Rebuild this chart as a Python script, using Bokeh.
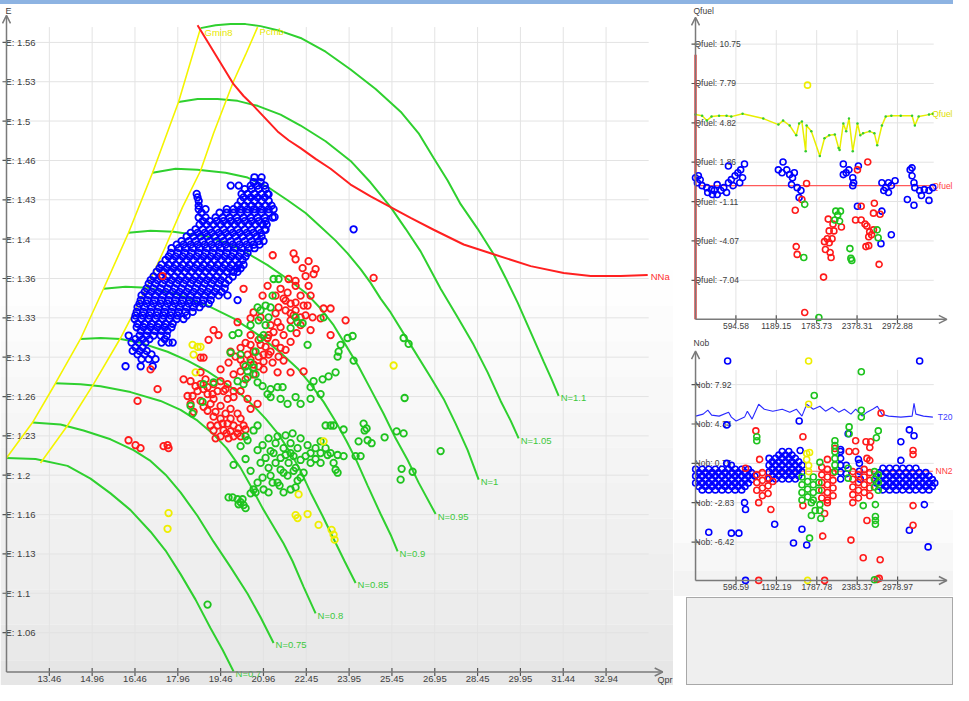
from bokeh.plotting import figure
from bokeh.models import Range1d, Arrow, OpenHead, BoxAnnotation, Div
from bokeh.layouts import row, column
from bokeh.embed import file_html
from bokeh.resources import INLINE
from bokeh.core.properties import value

FONT = "Liberation Sans"
AXIS_C = "#7a7a7a"
TICK_C = "#555555"
TEXT_C = "#404040"
GRID_C = "#e3e3e3"
BLUE, RED, GREEN, YELLOW = "#0000ff", "#ff1a1a", "#1ec31e", "#eeee00"
LINE_GREEN, LINE_YELLOW, LINE_RED = "#2fd02f", "#f4f400", "#ff2020"

# ---------------- main map: Qpr vs E ----------------
qpr_ticks = [13.4635, 14.962, 16.4605, 17.959, 19.4575, 20.956, 22.4545, 23.953,
             25.4515, 26.95, 28.4485, 29.947, 31.4455, 32.944]
qpr_labels = ["13.46", "14.96", "16.46", "17.96", "19.46", "20.96", "22.45", "23.95",
              "25.45", "26.95", "28.45", "29.95", "31.44", "32.94"]
e_ticks = [1.0633, 1.0967, 1.13, 1.1633, 1.1967, 1.23, 1.2633, 1.2967, 1.33, 1.3633,
           1.3967, 1.43, 1.4633, 1.4967, 1.53, 1.5633]
e_labels = ["1.06", "1.1", "1.13", "1.16", "1.2", "1.23", "1.26", "1.3", "1.33", "1.36",
            "1.4", "1.43", "1.46", "1.5", "1.53", "1.56"]

n070_x = [11.965, 12.98, 14.10, 14.905, 15.605, 16.305, 17.005, 17.53, 18.055, 18.58, 19.105, 19.525, 19.91]
n070_y = [1.2113, 1.2104, 1.2046, 1.1938, 1.1813, 1.1671, 1.1488, 1.1329, 1.1129, 1.0913, 1.0671, 1.0488, 1.0304]
n075_x = [12.875, 13.855, 14.66, 15.605, 16.41, 17.005, 17.53, 18.055, 18.65, 19.21, 19.805, 20.40, 20.855, 21.31]
n075_y = [1.2413, 1.2396, 1.2346, 1.2271, 1.2179, 1.2088, 1.1971, 1.1821, 1.1621, 1.1404, 1.1188, 1.0963, 1.0763, 1.0546]
n080_x = [13.68, 14.555, 15.255, 16.305, 17.355, 18.055, 18.65, 19.175, 19.665, 20.155, 20.54, 20.925,
          21.275, 21.66, 21.975, 22.36, 22.78]
n080_y = [1.2746, 1.2738, 1.2721, 1.2671, 1.2596, 1.2521, 1.2429, 1.2321, 1.2196, 1.2029, 1.1863, 1.1688,
          1.1546, 1.1388, 1.1238, 1.1021, 1.0796]
n085_x = [14.555, 15.255, 15.955, 16.655, 17.60, 18.30, 19.0, 19.63, 20.155, 20.61, 21.03, 21.485, 21.905,
          22.255, 22.605, 23.025, 23.41, 23.795, 24.18]
n085_y = [1.3121, 1.3129, 1.3121, 1.3088, 1.3013, 1.2938, 1.2846, 1.2746, 1.2654, 1.2554, 1.2446, 1.2313,
          1.2154, 1.2004, 1.1821, 1.1621, 1.1429, 1.1238, 1.1054]
n090_x = [15.36, 16.13, 16.90, 17.88, 19.0, 19.91, 20.785, 21.555, 22.15, 22.605, 23.06, 23.48, 23.865,
          24.215, 24.60, 25.055, 25.405, 25.65]
n090_y = [1.3546, 1.3563, 1.3554, 1.3504, 1.3404, 1.3296, 1.3154, 1.3004, 1.2871, 1.2738, 1.2588, 1.2421,
          1.2254, 1.2088, 1.1879, 1.1638, 1.1463, 1.1321]
n095_x = [16.235, 17.005, 17.81, 19.0, 19.805, 20.40, 21.10, 21.80, 22.43, 22.955, 23.41, 23.83, 24.285,
          24.705, 25.16, 25.58, 26.0, 26.385, 26.98]
n095_y = [1.4021, 1.4038, 1.4029, 1.3988, 1.3921, 1.3846, 1.3746, 1.3629, 1.3513, 1.3379, 1.3238, 1.3071,
          1.2888, 1.2696, 1.2488, 1.2279, 1.2096, 1.1904, 1.1638]
n100_x = [17.075, 17.88, 18.65, 19.63, 20.40, 21.135, 21.80, 22.43, 22.955, 23.48, 23.90, 24.355, 24.705,
          25.055, 25.405, 26.105, 26.805, 27.26, 27.68, 28.10, 28.485]
n100_y = [1.4529, 1.4563, 1.4554, 1.4529, 1.4488, 1.4404, 1.4296, 1.4188, 1.4071, 1.3954, 1.3846, 1.3713,
          1.3596, 1.3463, 1.3346, 1.3071, 1.2796, 1.2613, 1.2404, 1.2179, 1.1929]
n105_x = [17.985, 18.65, 19.35, 20.05, 20.75, 21.555, 22.255, 23.13, 24.005, 24.705, 25.405, 25.93, 26.455,
          27.155, 27.75, 28.31, 28.80, 29.255, 29.605, 29.885]
n105_y = [1.5129, 1.5154, 1.5154, 1.5138, 1.5096, 1.5021, 1.4929, 1.4796, 1.4629, 1.4446, 1.4238, 1.4054,
          1.3863, 1.3546, 1.3304, 1.3071, 1.2838, 1.2596, 1.2429, 1.2279]
n110_x = [18.755, 19.28, 19.805, 20.33, 20.855, 21.555, 22.255, 23.13, 24.005, 24.88, 25.755, 26.385, 26.91,
          27.40, 27.855, 28.45, 29.01, 29.43, 29.85, 30.305, 30.76, 31.04, 31.285]
n110_y = [1.5754, 1.5779, 1.5788, 1.5788, 1.5771, 1.5729, 1.5671, 1.5554, 1.5404, 1.5238, 1.5046, 1.4863,
          1.4654, 1.4463, 1.4263, 1.4054, 1.3838, 1.3638, 1.3429, 1.3179, 1.2929, 1.2779, 1.2638]
speed_names = ["N=0.7", "N=0.75", "N=0.8", "N=0.85", "N=0.9", "N=0.95", "N=1", "N=1.05", "N=1.1"]

gmin_x = [11.965, 12.875, 13.68, 14.555, 15.36, 16.235, 17.075, 17.985, 18.755]
gmin_y = [1.2113, 1.2413, 1.2746, 1.3121, 1.3546, 1.4021, 1.4529, 1.5129, 1.5754]
pcmb_x = [13.155, 14.10, 15.01, 15.955, 16.90, 17.53, 18.125, 18.755, 19.21, 19.91, 20.33, 20.75]
pcmb_y = [1.2071, 1.2388, 1.2738, 1.3129, 1.3571, 1.3904, 1.4238, 1.4546, 1.4863, 1.5304, 1.5529, 1.5763]
nna_x = [18.65, 18.965, 19.28, 19.595, 19.91, 20.26, 20.61, 21.03, 21.45, 21.835, 22.255, 22.78, 23.305,
         24.005, 24.705, 25.405, 26.105, 26.91, 27.96, 29.01, 30.305, 31.46, 32.405, 33.455, 34.40]
nna_y = [1.5779, 1.5654, 1.5529, 1.5404, 1.5279, 1.5179, 1.5096, 1.4988, 1.4879, 1.4804, 1.4738, 1.4646,
         1.4563, 1.4429, 1.4329, 1.4238, 1.4146, 1.4046, 1.3921, 1.3838, 1.3738, 1.3679, 1.3654, 1.3654, 1.3663]


def row_of(y, xs):
    return [(x, y) for x in xs]


map_blue = [
    *row_of(1.449, [20.64, 20.89]),
    *row_of(1.445, [20.61, 20.86]),
    *row_of(1.442, [19.81, 20.09, 20.51, 20.75, 21.00]),
    *row_of(1.439, [20.30, 20.54, 20.79, 21.03]),
    *row_of(1.435, [18.62, 20.19, 20.40, 20.64, 20.89, 21.10]),
    *row_of(1.432, [18.65, 20.26, 20.51, 20.75, 21.00]),
    *row_of(1.429, [18.69, 20.16, 20.40, 20.64, 20.89, 21.14]),
    *row_of(1.425, [18.69, 20.05, 20.30, 20.54, 20.79, 21.03, 21.24]),
    *row_of(1.422, [18.69, 18.93, 19.67, 19.91, 20.16, 20.40, 20.64, 20.89, 21.14, 21.31]),
    *row_of(1.419, [18.79, 19.42, 19.67, 19.91, 20.16, 20.40, 20.65, 20.89, 21.14]),
    *row_of(1.415, [18.69, 18.93, 19.28, 19.53, 19.77, 20.02, 20.26, 20.51, 20.75, 21.00, 21.28]),
    *row_of(1.412, [18.83, 19.07, 19.32, 19.56, 19.81, 20.05, 20.30, 20.54, 20.79, 21.03]),
    *row_of(1.409, [18.72, 18.97, 19.21, 19.46, 19.70, 19.95, 20.19, 20.44, 20.68, 20.93, 21.07]),
    *row_of(1.405, [18.58, 18.83, 19.07, 19.32, 19.56, 19.81, 20.05, 20.30, 20.54, 20.79, 21.00]),
    *row_of(1.402, [18.41, 18.65, 18.90, 19.14, 19.39, 19.63, 19.88, 20.12, 20.37, 20.61, 20.86]),
    *row_of(1.399, [18.27, 18.51, 18.76, 19.00, 19.25, 19.49, 19.74, 19.98, 20.23, 20.47, 20.72, 20.89]),
    *row_of(1.395, [18.09, 18.34, 18.58, 18.83, 19.07, 19.32, 19.56, 19.81, 20.05, 20.30, 20.54, 20.79, 20.96]),
    *row_of(1.392, [17.92, 18.16, 18.41, 18.65, 18.90, 19.14, 19.39, 19.63, 19.88, 20.12, 20.37, 20.61, 20.82]),
    *row_of(1.389, [17.74, 17.99, 18.23, 18.48, 18.72, 18.97, 19.21, 19.46, 19.70, 19.95, 20.19, 20.44, 20.64]),
    *row_of(1.385, [17.71, 17.95, 18.20, 18.44, 18.69, 18.93, 19.18, 19.42, 19.67, 19.91, 20.16, 20.40]),
    *row_of(1.382, [17.64, 17.88, 18.13, 18.37, 18.62, 18.86, 19.11, 19.35, 19.60, 19.84, 20.09, 20.33]),
    *row_of(1.379, [17.53, 17.78, 18.02, 18.27, 18.51, 18.76, 19.00, 19.25, 19.49, 19.74, 19.98, 20.23]),
    *row_of(1.375, [17.39, 17.64, 17.88, 18.13, 18.37, 18.62, 18.86, 19.11, 19.35, 19.60, 19.84, 20.09, 20.26]),
    *row_of(1.372, [17.32, 17.57, 17.81, 18.06, 18.30, 18.55, 18.79, 19.04, 19.28, 19.53, 19.77, 20.02, 20.16]),
    *row_of(1.369, [17.22, 17.46, 17.71, 17.95, 18.20, 18.44, 18.69, 18.93, 19.18, 19.42, 19.67, 19.91, 20.05]),
    *row_of(1.365, [17.11, 17.36, 17.60, 17.85, 18.09, 18.34, 18.58, 18.83, 19.07, 19.32, 19.56, 19.88]),
    *row_of(1.362, [17.01, 17.25, 17.50, 17.74, 17.99, 18.23, 18.48, 18.72, 18.97, 19.21, 19.46, 19.74]),
    *row_of(1.359, [16.94, 17.18, 17.43, 17.67, 17.92, 18.16, 18.41, 18.65, 18.90, 19.14, 19.39, 19.63]),
    *row_of(1.355, [16.87, 17.11, 17.36, 17.60, 17.85, 18.09, 18.34, 18.58, 18.83, 19.07, 19.32, 19.60]),
    *row_of(1.352, [16.80, 17.04, 17.29, 17.53, 17.78, 18.02, 18.27, 18.51, 18.76, 19.00, 19.25, 19.49]),
    *row_of(1.349, [16.69, 16.94, 17.18, 17.43, 17.67, 17.92, 18.16, 18.41, 18.65, 18.90, 19.14, 19.39, 19.70]),
    *row_of(1.345, [16.66, 16.90, 17.15, 17.39, 17.64, 17.88, 18.13, 18.37, 18.62, 18.86, 19.11]),
    *row_of(1.342, [16.62, 16.87, 17.11, 17.36, 17.60, 17.85, 18.09, 18.34, 18.58, 18.83, 19.04]),
    *row_of(1.339, [16.55, 16.80, 17.04, 17.29, 17.53, 17.78, 18.02, 18.27, 18.51, 18.72]),
    *row_of(1.335, [16.52, 16.76, 17.01, 17.25, 17.50, 17.74, 17.99, 18.23, 18.48]),
    *row_of(1.332, [16.48, 16.73, 16.97, 17.22, 17.46, 17.71, 17.95, 18.27]),
    *row_of(1.329, [16.45, 16.69, 16.94, 17.18, 17.43, 17.67, 17.92, 18.16]),
    *row_of(1.325, [16.55, 16.80, 17.04, 17.29, 17.53, 17.78]),
    *row_of(1.322, [16.52, 16.76, 17.01, 17.25, 17.50, 17.74]),
    *row_of(1.319, [16.66, 16.90, 17.15, 17.39, 17.60]),
    *row_of(1.315, [16.24, 16.62, 16.87, 17.11, 17.36, 17.57]),
    *row_of(1.312, [16.48, 16.73, 16.97, 17.50]),
    *row_of(1.309, [16.34, 16.59, 16.83, 17.39, 17.64, 17.78]),
    *row_of(1.305, [16.48, 16.73]),
    *row_of(1.302, [16.38, 16.62, 16.87]),
    *row_of(1.299, [16.55, 16.80, 17.04]),
    *row_of(1.295, [16.69, 16.94, 17.18]),
    *row_of(1.289, [16.13, 16.66, 17.08]),
    (24.11, 1.405), (20.05, 1.345), (21.135, 1.4346), (21.345, 1.4154), (21.03, 1.4046),
]

map_red = [
    (21.28, 1.383), (22.01, 1.3846), (22.08, 1.3796), (22.535, 1.378), (22.78, 1.3713), (22.71, 1.3671),
    (22.325, 1.3721), (21.835, 1.3629), (20.26, 1.3546), (21.10, 1.3571), (21.555, 1.3546), (21.80, 1.3513),
    (21.66, 1.3463), (21.905, 1.3421), (22.535, 1.3571), (22.36, 1.3404), (22.50, 1.3404), (20.61, 1.3346),
    (20.505, 1.3296), (20.855, 1.3304), (20.05, 1.3263), (19.21, 1.3196), (19.385, 1.3154), (19.035, 1.3113),
    (21.45, 1.3263), (22.01, 1.3321), (22.255, 1.3238), (22.605, 1.3196), (22.955, 1.3296), (23.06, 1.3379),
    (21.31, 1.3179), (21.66, 1.3154), (21.905, 1.3096), (21.10, 1.3129), (20.855, 1.3071), (20.155, 1.3046),
    (20.40, 1.2988), (20.61, 1.3013), (20.96, 1.2988), (21.205, 1.3013), (21.555, 1.3046), (20.61, 1.2904),
    (20.26, 1.2904), (20.96, 1.2929), (20.155, 1.2846), (20.61, 1.2821), (21.45, 1.2838), (21.905, 1.2838),
    (22.36, 1.2846), (18.755, 1.2963), (18.86, 1.2963), (19.455, 1.2863), (18.755, 1.2838), (18.16, 1.2779),
    (18.405, 1.2763), (18.755, 1.2738), (19.0, 1.2713), (19.21, 1.2738), (19.455, 1.2763), (19.70, 1.2738),
    (19.91, 1.2679), (19.35, 1.2679), (19.0, 1.2654), (18.65, 1.2679), (18.30, 1.2638), (18.755, 1.2596),
    (19.21, 1.2613), (19.70, 1.2613), (19.91, 1.2629), (20.40, 1.2613), (20.75, 1.2571), (20.505, 1.2529),
    (18.86, 1.2546), (19.0, 1.2513), (18.51, 1.2504), (19.21, 1.2463), (19.455, 1.2446), (19.70, 1.2404),
    (19.91, 1.2388), (19.35, 1.2388), (19.56, 1.2346), (19.805, 1.2338), (20.05, 1.2321), (19.455, 1.2296),
    (19.91, 1.2296), (20.085, 1.2363),
    (17.25, 1.2696), (16.55, 1.2596), (17.005, 1.2863), (17.425, 1.3654), (16.235, 1.2263), (16.48, 1.2221),
    (16.655, 1.2196), (17.46, 1.2213), (17.635, 1.2196), (17.6, 1.2221), (24.81, 1.3638), (23.83, 1.3279),
    (23.305, 1.3379), (23.305, 1.3154),
    (21.73, 1.3363), (22.08, 1.3363), (21.38, 1.3338), (21.905, 1.3279), (21.555, 1.3221), (22.115, 1.3171),
    (21.205, 1.3238), (22.255, 1.3488), (22.08, 1.3571), (22.43, 1.3321), (20.505, 1.3154), (20.785, 1.3113),
    (20.33, 1.3088), (21.03, 1.3054), (20.505, 1.2946), (20.785, 1.2888), (19.98, 1.2971), (21.275, 1.2921),
    (19.805, 1.3013), (21.66, 1.2938), (18.58, 1.2721), (18.93, 1.2779), (19.56, 1.2679), (20.155, 1.2679),
    (19.105, 1.2571), (19.455, 1.2554), (19.805, 1.2529), (18.405, 1.2571), (19.21, 1.2346), (19.63, 1.2488),
    (20.155, 1.2446), (20.26, 1.2388), (19.735, 1.2279),
    (20.925, 1.3488), (21.38, 1.3488), (21.73, 1.3446), (22.08, 1.3429), (21.485, 1.3388), (21.905, 1.3338),
    (22.255, 1.3304), (21.135, 1.3154), (21.38, 1.3088), (21.73, 1.3029), (20.785, 1.2971), (21.135, 1.2988),
    (21.485, 1.2971), (20.96, 1.2863), (20.33, 1.2779), (19.91, 1.2821), (19.63, 1.2696), (19.175, 1.2654),
    (18.86, 1.2696), (18.475, 1.2638), (19.28, 1.2504), (19.525, 1.2404), (19.805, 1.2446), (20.05, 1.2488),
    (19.665, 1.2321), (20.155, 1.2296), (20.33, 1.2354), (19.28, 1.2279), (19.105, 1.2388), (22.08, 1.3613),
    (22.43, 1.3654), (22.605, 1.3488), (22.675, 1.3304), (20.505, 1.3071), (20.155, 1.2946), (19.735, 1.2921),
]

map_green = [
    (21.31, 1.3629), (21.485, 1.3629), (20.75, 1.3388), (20.855, 1.3363), (19.875, 1.3154), (20.085, 1.3171),
    (19.805, 1.3004), (20.40, 1.2846), (20.75, 1.2754), (20.05, 1.2763), (19.21, 1.2754), (18.86, 1.2738),
    (18.405, 1.2554), (18.475, 1.2488), (18.825, 1.2588), (20.61, 1.2879), (20.40, 1.2796), (20.855, 1.3129),
    (20.96, 1.3154), (21.03, 1.3238), (21.135, 1.3304), (20.68, 1.3013), (20.505, 1.2921), (20.26, 1.2738),
    (21.205, 1.3388), (21.275, 1.3488),
    (22.08, 1.3304), (22.15, 1.3263), (22.325, 1.3254), (22.50, 1.3071), (21.905, 1.3213), (22.71, 1.2763),
    (23.025, 1.2779), (23.235, 1.2804), (22.605, 1.2713), (22.08, 1.2629), (21.625, 1.2713), (21.45, 1.2713),
    (21.205, 1.2629), (21.10, 1.2654), (23.06, 1.3304), (23.13, 1.2388), (22.955, 1.2254),
    (23.90, 1.3129), (24.075, 1.3146), (23.655, 1.3071), (23.585, 1.3013), (23.55, 1.2971), (24.11, 1.2938),
    (23.48, 1.2838), (25.86, 1.3129), (26.035, 1.3079), (25.895, 1.2621), (23.305, 1.2388), (23.41, 1.2388),
    (23.76, 1.2354), (24.46, 1.2404), (24.565, 1.2363), (24.495, 1.2346), (24.285, 1.2254), (24.60, 1.2263),
    (24.74, 1.2238), (25.195, 1.2288), (25.615, 1.2338), (25.86, 1.2321), (27.155, 1.2171), (23.305, 1.2154),
    (23.55, 1.2138), (23.76, 1.2129), (24.18, 1.2129), (24.355, 1.2129), (23.41, 1.2071), (23.48, 1.2013),
    (23.55, 1.1988), (25.79, 1.2021), (26.175, 1.1996), (25.755, 1.1929),
    (20.40, 1.2263), (20.61, 1.2346), (20.75, 1.2388), (20.33, 1.2296), (20.75, 1.2179), (21.205, 1.2171),
    (19.91, 1.2054), (20.155, 1.2213), (21.45, 1.2296), (21.73, 1.2304), (22.01, 1.2129), (22.255, 1.2096),
    (22.43, 1.2129), (21.555, 1.2013), (21.205, 1.1963), (21.45, 1.1904), (21.80, 1.1963), (21.905, 1.1846),
    (20.96, 1.1846), (20.61, 1.1846), (21.38, 1.2238), (21.66, 1.2196), (21.905, 1.2238), (21.555, 1.2113),
    (21.835, 1.2071), (22.08, 1.2029), (21.38, 1.2071), (21.135, 1.2029), (21.03, 1.2113), (21.66, 1.1821),
    (22.15, 1.1921), (22.36, 1.1988), (22.605, 1.2071), (21.275, 1.1904), (20.925, 1.1946), (21.905, 1.2154),
    (22.78, 1.2196), (22.955, 1.2154), (23.13, 1.2196), (23.20, 1.2138),
    (19.735, 1.1779), (19.875, 1.1779), (20.05, 1.1763), (20.155, 1.1738), (20.26, 1.1713), (20.33, 1.1688),
    (20.085, 1.1721), (20.225, 1.1763), (20.505, 1.1813), (20.68, 1.1821), (19.0, 1.0871),
    (21.135, 1.2279), (20.925, 1.2221), (21.31, 1.2154), (21.73, 1.2138), (22.15, 1.2196), (22.255, 1.2279),
    (21.975, 1.2321), (22.50, 1.2221), (22.605, 1.2154), (20.855, 1.2071), (21.66, 1.1988), (22.01, 1.2004),
    (22.255, 1.1946), (21.52, 1.1879), (21.135, 1.1821), (22.08, 1.1863), (20.75, 1.1904), (20.505, 1.2004),
    (20.33, 1.2104), (22.78, 1.2104), (22.955, 1.2071),
    (20.33, 1.2888), (20.68, 1.2821), (20.925, 1.2721), (20.155, 1.2988), (20.505, 1.3238), (20.785, 1.3279),
    (21.03, 1.3404), (21.205, 1.2696), (21.555, 1.2613), (21.80, 1.2571), (22.255, 1.2571), (22.605, 1.2613),
    (22.955, 1.2654),
]

map_yellow = [
    (18.475, 1.3071), (18.65, 1.3054), (18.755, 1.3054), (18.51, 1.2988), (18.58, 1.2838), (25.51, 1.2896),
    (23.06, 1.2254), (17.635, 1.1646), (17.60, 1.1513), (22.185, 1.1804), (22.08, 1.1629), (22.15, 1.1604),
    (22.50, 1.1638), (22.885, 1.1546), (23.34, 1.1504), (23.41, 1.1463), (23.445, 1.1421),
]

# ---------------- Qfuel panel ----------------
qf_xticks = [594.58, 1189.15, 1783.73, 2378.31, 2972.88]
qf_xlabels = ["594.58", "1189.15", "1783.73", "2378.31", "2972.88"]
qf_yticks = [-7.04, -4.075, -1.11, 1.855, 4.82, 7.785, 10.75]
qf_ylabels = ["-7.04", "-4.07", "-1.11", "1.86", "4.82", "7.79", "10.75"]
qf_line_x = [0, 97, 166, 236, 347, 457, 527, 693, 998, 1220, 1289, 1386, 1483, 1525, 1566, 1622, 1635,
             1705, 1830, 1899, 1968, 2051, 2107, 2121, 2176, 2218, 2259, 2315, 2384, 2426, 2467, 2564,
             2633, 2675, 2744, 2800, 2883, 3021, 3188, 3229, 3285, 3437, 3493]
qf_line_y = [5.44, 5.36, 4.99, 5.29, 5.36, 5.36, 5.29, 5.51, 5.14, 4.69, 4.99, 4.62, 3.88, 4.77, 4.92,
             2.69, 4.62, 4.18, 2.32, 3.66, 3.88, 3.95, 2.92, 2.77, 4.77, 4.18, 5.14, 2.69, 4.77, 3.88,
             4.03, 4.18, 4.03, 3.14, 4.62, 5.29, 5.36, 5.36, 5.36, 4.62, 5.29, 5.44, 5.51]
qf_ref_x = [0, 3493]
qf_ref_y = [0.09, 0.09]
qf_limit_x = [0, 0]
qf_limit_y = [-9.98, 9.95]
qf_blue = [(485, 1.57), (721, 1.72), (1289, 1.87), (2176, 1.72), (2398, 1.57), (3188, 1.43), (0, 0.69),
           (42, 0.83), (28, 0.31), (97, 0.09), (166, -0.06), (236, -0.21), (277, -0.28), (319, 0.17),
           (374, -0.28), (416, -0.06), (457, -0.43), (485, 0.31), (527, 0.54), (582, 0.83), (624, 1.06),
           (665, 1.28), (693, 0.69), (651, 0.31), (554, 0.09), (319, -0.58), (249, -0.58), (180, -0.43),
           (69, 0.54), (1220, 1.28), (1275, 1.06), (1344, 1.28), (1386, 0.92), (1428, 0.69), (1455, 1.06),
           (1414, 0.17), (1497, -0.06), (1552, -0.28), (1525, -0.80), (2176, 0.92), (2218, 1.06),
           (2259, 1.28), (2315, 0.69), (2328, 0.31), (2315, 0.09), (2744, 0.31), (2800, -0.06),
           (2841, 0.31), (2883, 0.09), (2938, 0.46), (2772, -0.28), (2841, -0.43), (3160, 1.28),
           (3188, 0.83), (3216, 0.31), (3229, -0.06), (3299, -0.28), (3368, -0.21), (3437, -0.28),
           (3493, -0.06), (3119, -0.95), (3216, -1.39), (3437, -1.02), (3326, -0.65), (2384, -1.46),
           (2744, -1.83), (2883, -3.61), (2730, -4.28)]
qf_red = [(2536, 1.87), (1635, 0.25), (1566, -0.95), (1469, -1.76), (1954, -2.43), (2024, -2.80),
          (2148, -3.02), (1968, -3.32), (2037, -3.32), (1940, -3.91), (2010, -3.91), (1899, -4.13),
          (1968, -4.21), (1913, -4.72), (1982, -4.95), (1996, -5.32), (1483, -4.50), (1497, -5.09),
          (1885, -6.80), (1608, -9.47), (2356, -2.50), (2439, -2.50), (2495, -2.80), (2523, -2.95),
          (2439, -1.46), (2633, -1.24), (2620, -1.98), (2717, -2.06), (2564, -3.39), (2592, -3.61),
          (2550, -3.76), (2620, -3.24), (2509, -4.50), (2550, -4.43), (2703, -5.84), (2384, 1.28)]
qf_green = [(1608, -1.32), (2065, -1.83), (2134, -1.83), (2093, -2.13), (2051, -2.50), (2121, -2.58),
            (2273, -4.65), (2287, -5.39), (2301, -5.54), (1594, -5.32), (2675, -3.24), (2689, -3.84),
            (1816, -9.84)]
qf_yellow = [(1649, 7.66)]

# ---------------- Nob panel ----------------
nob_xticks = [596.59, 1192.19, 1787.78, 2383.37, 2978.97]
nob_xlabels = ["596.59", "1192.19", "1787.78", "2383.37", "2978.97"]
nob_yticks = [-6.42, -2.835, 0.75, 4.335, 7.92]
nob_ylabels = ["-6.42", "-2.83", "0.75", "4.34", "7.92"]
t20_x = [1, 112, 181, 237, 348, 487, 528, 598, 723, 764, 834, 931, 1014, 1139, 1278, 1389, 1486, 1569,
         1639, 1736, 1833, 1916, 2014, 2111, 2194, 2291, 2361, 2458, 2527, 2611, 2680, 2749, 2846,
         3027, 3193, 3221, 3249, 3360, 3499]
t20_y = [5.05, 5.23, 5.59, 5.14, 5.05, 5.41, 4.96, 4.61, 4.96, 5.50, 4.78, 6.13, 5.68, 5.50, 5.68,
         5.41, 5.68, 5.05, 6.13, 5.68, 5.95, 5.50, 5.86, 5.41, 5.68, 5.23, 5.68, 5.05, 5.41, 5.68,
         5.95, 5.23, 5.05, 4.96, 5.05, 6.22, 5.23, 5.05, 4.96]
nn2_x = [1, 3499]
nn2_y = [0.03, 0.03]
nob_blue = [
    *row_of(0.214, [1, 98, 195, 292, 390, 487, 584, 681, 778]),
    *row_of(-0.1, [50, 147, 244, 341, 438, 535, 632, 729, 826]),
    *row_of(-0.413, [1, 98, 195, 292, 390, 487, 584, 681, 778, 875]),
    *row_of(-0.73, [50, 147, 244, 341, 438, 535, 632, 729, 826]),
    *row_of(-1.04, [1, 98, 195, 292, 390, 487, 584, 681, 778]),
    *row_of(-1.35, [50, 147, 244, 341, 438, 535, 632, 729]),
    *row_of(-1.667, [98, 195, 292, 390, 487, 584, 681]),
    (459, 0.75), (528, 0.57),
    *row_of(1.827, [1278, 1375]),
    *row_of(1.5, [1229, 1326, 1423]),
    *row_of(1.2, [1084, 1181, 1278, 1375, 1472]),
    *row_of(0.89, [1132, 1229, 1326, 1423, 1520]),
    *row_of(0.573, [1084, 1181, 1278, 1375, 1472, 1569]),
    *row_of(0.26, [1132, 1229, 1326, 1423, 1520]),
    *row_of(-0.054, [1084, 1181, 1278, 1375, 1472, 1569]),
    *row_of(-0.37, [1132, 1229, 1326, 1423, 1520]),
    *row_of(-0.682, [1084, 1181, 1278, 1375, 1472]),
    *row_of(0.3, [2763, 2860, 2958, 3055, 3152, 3249]),
    *row_of(-0.1, [2714, 2811, 2909, 3006, 3103, 3200, 3297, 3394]),
    *row_of(-0.413, [2666, 2763, 2860, 2958, 3055, 3152, 3249, 3346, 3443]),
    *row_of(-0.73, [2714, 2811, 2909, 3006, 3103, 3200, 3297, 3394, 3491]),
    *row_of(-1.04, [2666, 2763, 2860, 2958, 3055, 3152, 3249, 3346, 3443, 3527]),
    *row_of(-1.35, [2714, 2811, 2909, 3006, 3103, 3200, 3297, 3394, 3491]),
    *row_of(-1.667, [2763, 2860, 2958, 3055, 3152, 3249, 3346, 3443]),
    (2139, 1.827), (2139, 1.2), (2139, 0.573), (2139, -0.054), (2139, -0.682), (2222, 0.573),
    (2222, -0.2), (2416, 0.752), (2416, 0.035), (2430, -0.7),
    (473, 10.07), (3304, 10.07), (1528, 4.61), (459, 4.25), (2250, 3.44), (2139, 2.01), (3152, 3.80),
    (3221, 3.26), (3027, 2.72), (1542, 1.92), (3027, 1.02), (2402, 1.11),
    (723, -2.83), (737, -3.46), (3374, -3.01), (1167, -4.80), (195, -5.52), (528, -5.61), (639, -5.61),
    (1569, -5.25), (1444, -6.51), (1639, -6.69), (3152, -5.34), (3429, -6.86), (737, -9.91),
]
nob_red = [
    (903, -0.3), (903, -1.0), (903, -1.7), (986, -0.1), (986, -0.8), (986, -1.5), (986, -2.2),
    (1070, -0.6), (1070, -1.3), (1070, -2.0), (1139, -0.9),
    (1861, 0.4), (1861, -0.3), (1861, -1.0), (1861, -1.7), (1861, -2.4), (1944, 0.2), (1944, -0.5),
    (1944, -1.2), (1944, -1.9), (1944, -2.6), (2027, -0.1), (2027, -0.8), (2027, -1.5), (2027, -2.2),
    (2319, 0.0), (2319, -0.7), (2319, -1.4), (2319, -2.1), (2402, -0.3), (2402, -1.0), (2402, -1.7),
    (2402, -2.4), (2486, 0.2), (2486, -0.5), (2486, -1.2), (2486, -1.9), (2569, -0.1), (2569, -0.8),
    (2569, -1.5), (2569, -2.2),
    (2735, 5.32), (889, 3.71), (2361, 2.81), (2513, 2.72), (2583, 2.72), (2569, 2.19), (1583, 3.17),
    (2055, 2.10), (2264, 1.83), (2361, 1.83), (3207, 1.92), (3207, 1.56), (1944, 1.11), (945, 1.11),
    (737, 0.30), (2527, 1.20), (2569, 1.02),
    (931, -2.83), (1111, -3.46), (1583, -3.10), (1903, -3.82), (1944, -2.83), (2319, -2.83),
    (2527, -4.45), (3207, -3.10), (1875, -5.88), (2291, -6.24), (3207, -4.89), (2472, -7.85),
    (2722, -8.03), (931, -9.91), (1903, -9.91), (2680, -9.82), (2708, -9.73),
]
nob_green = [
    (1569, -0.5), (1569, -1.2), (1569, -1.9), (1569, -2.6), (1653, -0.9), (1653, -1.6), (1653, -2.3),
    (1736, -0.5), (1736, -1.2), (1736, -1.9), (1736, -2.6), (1819, -1.0), (1819, -1.7),
    (2055, 1.8), (2055, 1.2), (2055, 0.6), (2055, 0.0),
    (2638, 0.0), (2638, -0.7), (2638, -1.4), (2694, -0.3), (2694, -1.0), (2694, -1.7),
    (2250, 0.3), (2250, -0.6),
    (2444, 9.09), (1750, 6.93), (2444, 5.59), (2444, 4.96), (903, 3.17), (903, 2.81), (2264, 4.07),
    (2264, 3.44), (2694, 3.71), (2666, 3.08), (2055, 2.81), (2055, 2.37), (1833, 0.84),
    (1708, -2.83), (1833, -3.01), (1764, -3.55), (1833, -3.55), (1708, -4.00), (1847, -4.27),
    (2472, -3.10), (2652, -3.01), (2652, -4.09), (2652, -4.45), (2652, -4.80), (1681, -6.06),
    (2638, -9.85),
]
nob_yellow = [(1639, 1.65), (1639, 1.1), (1667, 0.55), (1667, 0.0), (1667, 10.07), (1667, 6.13),
              (1681, 1.74), (1653, -9.91)]


def xs(pts):
    return [p[0] for p in pts]


def ys(pts):
    return [p[1] for p in pts]


def base_fig(w, h, xr, yr, bg="white"):
    f = figure(width=w, height=h, x_range=Range1d(*xr), y_range=Range1d(*yr),
               x_axis_location=None, y_axis_location=None, output_backend="svg",
               toolbar_location=None, min_border=0, background_fill_color=bg,
               border_fill_color=bg)
    f.grid.visible = False
    f.outline_line_color = None
    return f


def shade(f, edges, cols):
    for top, bot, col in zip(edges[:-1], edges[1:], cols):
        f.add_layout(BoxAnnotation(top=top, bottom=bot, fill_color=col, fill_alpha=1.0,
                                   line_color=None, level="image"))


def txt(f, x, y, t, size, color=TEXT_C, **kw):
    f.text(x=x, y=y, text=t, text_font=value(FONT), text_font_size=size, text_color=color, **kw)


def draw_axes(f, ax, xticks, xlabels, yticks, ylabels, yprefix, size):
    x_ax, y_ax, x_arrow, y_arrow, grid_top, grid_right = ax
    nx, ny = len(xticks), len(yticks)
    f.segment(x0=xticks, y0=[y_ax] * nx, x1=xticks, y1=[grid_top] * nx, line_color=GRID_C, line_width=1)
    f.segment(x0=[x_ax] * ny, y0=yticks, x1=[grid_right] * ny, y1=yticks, line_color=GRID_C, line_width=1)
    head = dict(size=8, line_color=AXIS_C, line_width=1.5)
    f.add_layout(Arrow(end=OpenHead(**head), x_start=x_ax, y_start=y_ax, x_end=x_ax, y_end=y_arrow,
                       line_color=AXIS_C, line_width=1.5))
    f.add_layout(Arrow(end=OpenHead(**head), x_start=x_ax, y_start=y_ax, x_end=x_arrow, y_end=y_ax,
                       line_color=AXIS_C, line_width=1.5))
    f.scatter(x=[x_ax] * ny, y=yticks, marker="dash", size=8, line_color=TICK_C, line_width=1.2)
    f.scatter(x=xticks, y=[y_ax] * nx, marker="dash", angle=1.5708, size=8, line_color=TICK_C,
              line_width=1.2)
    txt(f, xticks, [y_ax] * nx, xlabels, size, y_offset=4, text_align="center", text_baseline="top")
    txt(f, [x_ax] * ny, yticks, [yprefix + l for l in ylabels], size, x_offset=-1,
        text_align="left", text_baseline="middle")


def rings(f, pts, color, size, lw):
    f.scatter(xs(pts), ys(pts), marker="circle", size=size, fill_color=None,
              line_color=color, line_width=lw)


# ---------- main figure ----------
MAIN_XR = (11.755, 35.303)
MAIN_YR = (1.01855, 1.59542)
MAIN_AX = (11.965, 1.03, 34.925, 1.58625, 1.5763, 34.435)
p = base_fig(673, 681, MAIN_XR, MAIN_YR)
shade(p, [1.37, 1.34, 1.31, 1.28, 1.25, 1.22, 1.19, 1.16, 1.13, 1.10, 1.07, 1.04, MAIN_YR[0]],
      ["#fefefe", "#fcfcfc", "#fafafa", "#f8f8f8", "#f6f6f6", "#f4f4f4", "#f2f2f2", "#f0f0f0",
       "#eeeeee", "#ececec", "#e9e9e9", "#e6e6e6"])
draw_axes(p, MAIN_AX, qpr_ticks, qpr_labels, e_ticks, e_labels, "E: ", "9.5px")
txt(p, [MAIN_AX[0]], [MAIN_YR[1]], ["E"], "9px", x_offset=2, y_offset=1, text_align="center",
    text_baseline="top")
txt(p, [MAIN_XR[1]], [MAIN_AX[1]], ["Qpr"], "9px", x_offset=-1, y_offset=3, text_align="right",
    text_baseline="top")

speed_lines = [(n070_x, n070_y), (n075_x, n075_y), (n080_x, n080_y), (n085_x, n085_y),
               (n090_x, n090_y), (n095_x, n095_y), (n100_x, n100_y), (n105_x, n105_y),
               (n110_x, n110_y)]
for (lx, ly), name in zip(speed_lines, speed_names):
    p.line(lx, ly, line_color=LINE_GREEN, line_width=2)
    txt(p, [lx[-1]], [ly[-1]], [name], "9.5px", color="#3cc83c", x_offset=2, y_offset=2,
        text_baseline="middle")
p.line(gmin_x, gmin_y, line_color=LINE_YELLOW, line_width=1.6)
p.line(pcmb_x, pcmb_y, line_color=LINE_YELLOW, line_width=1.6)
txt(p, [gmin_x[-1]], [gmin_y[-1]], ["Gmin8"], "9.5px", color="#e8e800", x_offset=4, y_offset=-1,
    text_baseline="top")
txt(p, [pcmb_x[-1]], [pcmb_y[-1]], ["Pcmb"], "9.5px", color="#e8e800", x_offset=2, y_offset=-1,
    text_baseline="top")
p.line(nna_x, nna_y, line_color=LINE_RED, line_width=2)
txt(p, [nna_x[-1]], [nna_y[-1]], ["NNa"], "9.5px", color="#ff3030", x_offset=3, y_offset=2,
    text_baseline="middle")
rings(p, map_blue, BLUE, 6.5, 1.8)
rings(p, map_red, RED, 6.5, 1.8)
rings(p, map_green, GREEN, 6.5, 1.8)
rings(p, map_yellow, YELLOW, 6.5, 1.8)

# ---------- Qfuel figure ----------
QF_XR = (-324, 3798)
QF_YR = (-10.896, 13.734)
QF_AX = (0, -9.98, 3700, 12.77, 11.81, 3507)
q = base_fig(280, 327, QF_XR, QF_YR)
draw_axes(q, QF_AX, qf_xticks, qf_xlabels, qf_yticks, qf_ylabels, "Qfuel: ", "8.5px")
txt(q, [0], [QF_YR[1]], ["Qfuel"], "8.5px", x_offset=-2, y_offset=1, text_baseline="top")
q.line(qf_ref_x, qf_ref_y, line_color="#ff5a5a", line_width=1.2)
txt(q, [QF_XR[1]], [qf_ref_y[-1]], ["Qfuel"], "8.5px", color="#ff4040", x_offset=-1,
    text_align="right", text_baseline="middle")
q.line(qf_limit_x, qf_limit_y, line_color="#ff1a1a", line_width=2.2)
q.line(qf_line_x, qf_line_y, line_color="#e8ee00", line_width=1.5)
q.scatter(qf_line_x, qf_line_y, marker="circle", size=2.5, fill_color="#33cc33", line_color=None)
txt(q, [QF_XR[1]], [qf_line_y[-1]], ["Qfuel"], "8.5px", color="#e0e000", x_offset=-1,
    text_align="right", text_baseline="middle")
rings(q, qf_blue, BLUE, 6, 1.6)
rings(q, qf_red, RED, 6, 1.6)
rings(q, qf_green, GREEN, 6, 1.6)
rings(q, qf_yellow, YELLOW, 6, 1.6)

# ---------- Nob figure ----------
NOB_XR = (-325, 3803)
NOB_YR = (-11.378, 12.758)
NOB_AX = (0, -9.92, 3705, 10.97, 9.26, 3512)
n = base_fig(280, 265, NOB_XR, NOB_YR)
shade(n, [-3.5, -6.5, -9.0, NOB_YR[0]], ["#fbfbfb", "#f7f7f7", "#f3f3f3"])
draw_axes(n, NOB_AX, nob_xticks, nob_xlabels, nob_yticks, nob_ylabels, "Nob: ", "8.5px")
txt(n, [0], [12.13], ["Nob"], "8.5px", x_offset=-2, text_baseline="top")
n.line(nn2_x, nn2_y, line_color="#ff6060", line_width=1.2)
txt(n, [NOB_XR[1]], [nn2_y[-1]], ["NN2"], "8.5px", color="#ff4040", x_offset=-1,
    text_align="right", text_baseline="middle")
n.line(t20_x, t20_y, line_color="#2a2aff", line_width=1.1)
txt(n, [NOB_XR[1]], [t20_y[-1]], ["T20"], "8.5px", color="#4040ff", x_offset=-1,
    text_align="right", text_baseline="middle")
rings(n, nob_blue, BLUE, 6, 1.6)
rings(n, nob_red, RED, 6, 1.6)
rings(n, nob_green, GREEN, 6, 1.6)
rings(n, nob_yellow, YELLOW, 6, 1.6)

empty_box = Div(text="", width=267, height=88, margin=(1, 0, 0, 13),
                styles={"background-color": "#efefef", "border": "1px solid #a8a8a8",
                        "box-sizing": "border-box"})
top_bar = Div(text="", width=953, height=4, margin=(0, 0, 0, 0),
              styles={"background-color": "#8db3e2"})

layout = column(top_bar, row(p, column(q, n, empty_box)))
open("out.html", "w").write(file_html(layout, INLINE))
